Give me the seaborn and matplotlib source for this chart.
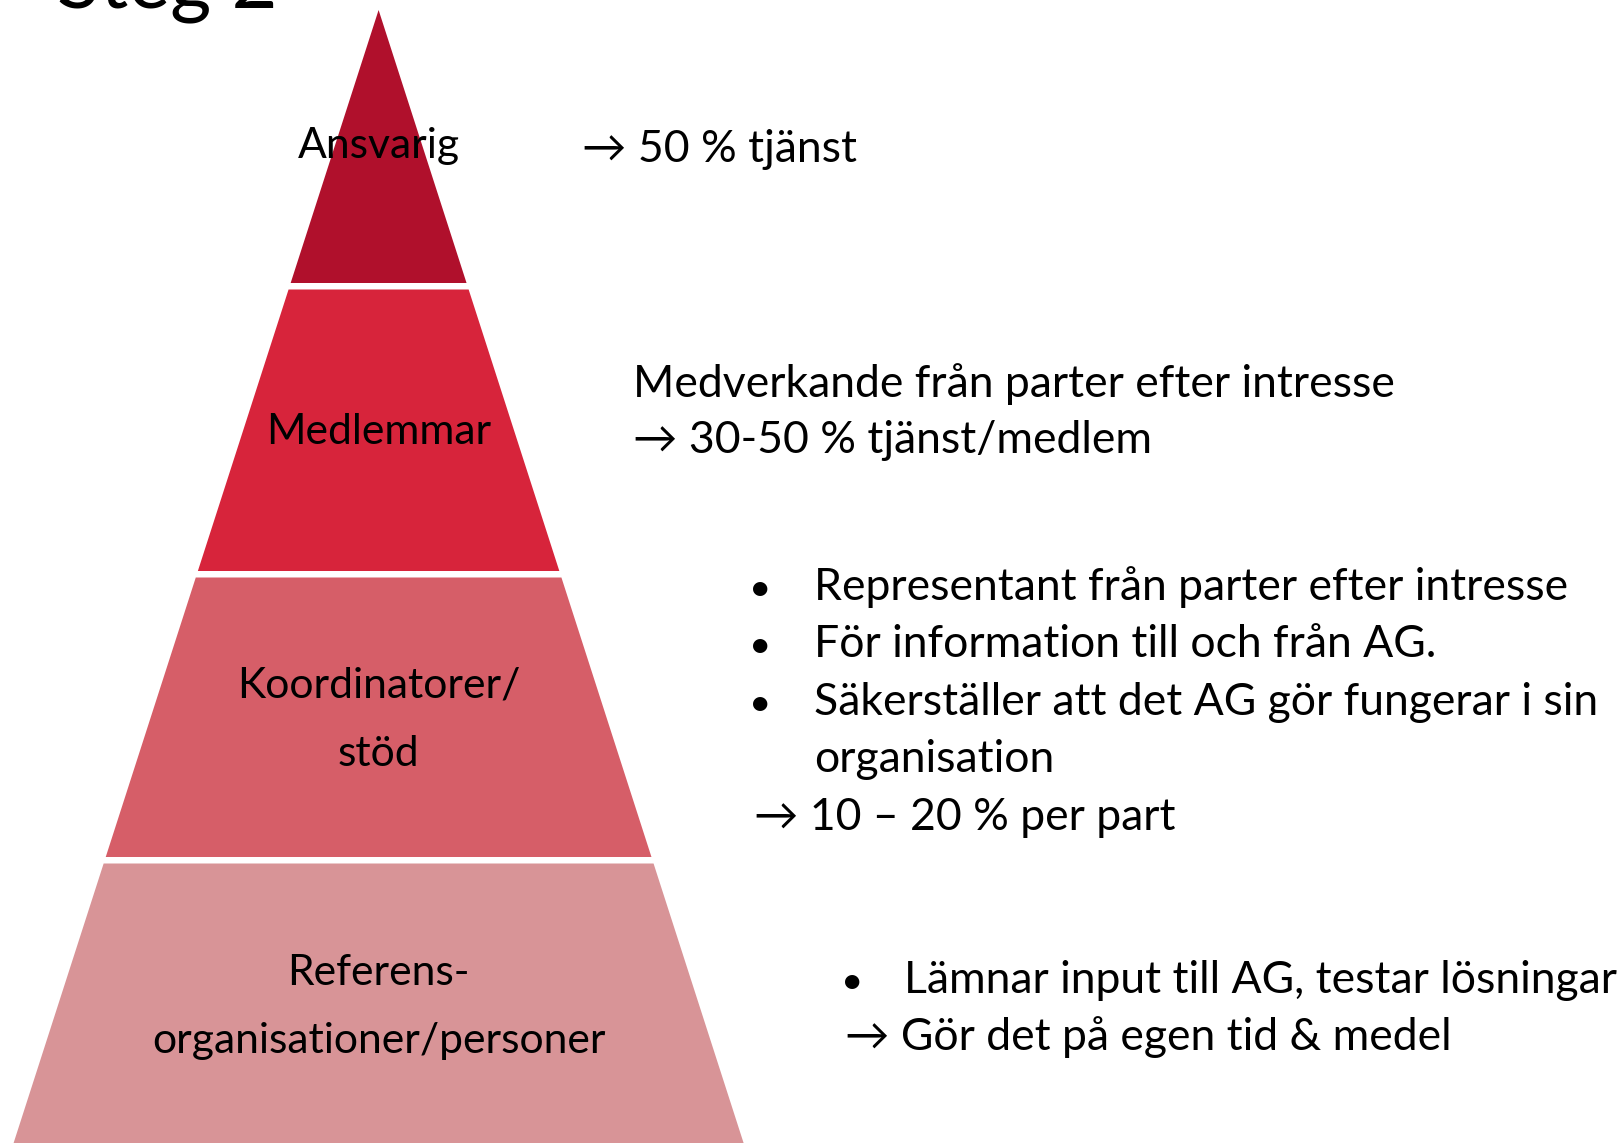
import matplotlib
matplotlib.use("Agg")
import matplotlib.pyplot as plt
import seaborn as sns

# tiers of the pyramid, top to bottom
tier_labels = ["Ansvarig", "Medlemmar", "Koordinatorer/\nstöd", "Referens-\norganisationer/personer"]
tier_colors = ["#B0102C", "#D7243B", "#D65E68", "#D89497"]
tier_bottoms = [283, 571, 857, 1143]   # lower edge of each tier (px from top)
label_baselines = [[158], [444], [698, 766], [985, 1053]]

# texts beside the pyramid
side_lines = [
    # (x, baseline, text, bullet_x)
    (582, 162, "\u2192 50 % tjänst", None),
    (633, 397, "Medverkande från parter efter intresse", None),
    (633, 453, "\u2192 30-50 % tjänst/medlem", None),
    (814, 600, "Representant från parter efter intresse", 760),
    (814, 657, "För information till och från AG.", 760),
    (814, 715, "Säkerställer att det AG gör fungerar i sin", 760),
    (814, 772, "organisation", None),
    (754, 830, "\u2192 10 \u2013 20 % per part", None),
    (904, 993, "Lämnar input till AG, testar lösningar", 852),
    (845, 1050, "\u2192 Gör det på egen tid & medel", None),
]

W, H = 1622, 1143
apex_x, apex_y = 378.6, 10
base_half = 365
gap = 6.5

sns.set_theme(style="white")
plt.rcParams["font.family"] = ["Lato", "DejaVu Sans"]

fig = plt.figure(figsize=(W / 100, H / 100), dpi=100)
ax = fig.add_axes([0, 0, 1, 1])
ax.set_xlim(0, W)
ax.set_ylim(H, 0)
ax.axis("off")


def half_width(y):
    return base_half * (y - apex_y) / (H - apex_y)


label_fs = 30.7
side_fs = 32
top = apex_y
for label, color, bottom, baselines in zip(tier_labels, tier_colors, tier_bottoms, label_baselines):
    xs = [apex_x - half_width(top), apex_x + half_width(top),
          apex_x + half_width(bottom), apex_x - half_width(bottom)]
    ys = [top, top, bottom, bottom]
    ax.fill(xs, ys, color=color, lw=0)
    for line, yb in zip(label.split("\n"), baselines):
        ax.text(apex_x, yb, line, ha="center", va="baseline", fontsize=label_fs, color="black")
    top = bottom + gap

for x, yb, text, bx in side_lines:
    ax.text(x, yb, text, ha="left", va="baseline", fontsize=side_fs, color="black")
    if bx is not None:
        ax.text(bx, yb, "\u2022", ha="center", va="baseline", fontsize=side_fs - 4, color="black")

# title, mostly cut off by the top edge
ax.text(57, 8, "Steg 2", ha="left", va="baseline", fontsize=57, color="black")

fig.savefig("out.png", dpi=100)
